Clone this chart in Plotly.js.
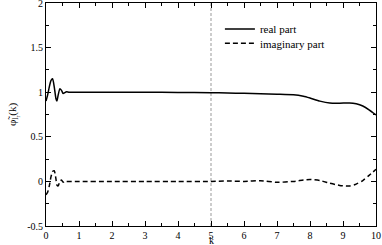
<!DOCTYPE html>
<html><head><meta charset="utf-8">
<script src="https://cdn.plot.ly/plotly-3.0.1.min.js"></script>
<style>html,body{margin:0;padding:0;background:#fff}#chart{width:382px;height:245px}</style>
</head><body><div id="chart"></div>
<script>
const kValues = [0,0.05,0.1,0.15,0.2,0.25,0.3,0.33,0.37,0.42,0.47,0.52,0.57,0.62,0.7,1,2,3,4,5,5.5,6,6.5,7,7.5,7.8,8,8.3,8.6,8.9,9.2,9.4,9.6,9.8,10];
const realPart = [0.9,0.97,1.06,1.13,1.15,1.06,0.93,0.9,0.97,1.04,1.02,0.985,0.995,1.005,1.0,1.0,1.0,1.0,0.998,0.995,0.99,0.988,0.982,0.978,0.972,0.955,0.935,0.9,0.878,0.876,0.88,0.87,0.845,0.8,0.745];
const imagPart = [-0.15,-0.12,-0.05,0.05,0.11,0.12,0.03,-0.04,-0.05,0.0,0.015,-0.01,0.003,0.0,0.0,0.0,0.0,0.0,0.0,0.0,0.005,0.0,0.008,-0.01,0.0,0.015,0.022,0.01,-0.02,-0.045,-0.052,-0.03,0.01,0.07,0.135];
const markerK = [5, 5];
const markerY = [-0.5, 2];
const seriesNames = ["real part", "imaginary part"];
const xTitle = "k";
const yTitle = "φ̃<sub>l<sub>r</sub></sub>(k)";
const xTickVals = [0,1,2,3,4,5,6,7,8,9,10];
const xTickText = ["0","1","2","3","4","5","6","7","8","9","10"];
const yTickVals = [-0.5,0,0.5,1,1.5,2];
const yTickText = ["-0.5","0","0.5","1","1.5","2"];

const fam = "Liberation Serif";
const font = {family: fam, size: 11, color: "#000"};
const tickFont = {family: fam, size: 10, color: "#000"};
const traces = [
  {x: markerK, y: markerY, mode: "lines", line: {color: "#999", width: 1, dash: "3px,2px"}, showlegend: false, hoverinfo: "skip"},
  {x: kValues, y: realPart, name: seriesNames[0], legend: "legend", mode: "lines", line: {color: "#000", width: 1.5, shape: "spline", smoothing: 0.6}},
  {x: kValues, y: imagPart, name: seriesNames[1], legend: "legend2", mode: "lines", line: {color: "#000", width: 1.5, dash: "5px,3px", shape: "spline", smoothing: 0.6}}
];
const axisCommon = {
  showgrid: false, zeroline: false, showline: true, linecolor: "#000", linewidth: 1,
  mirror: "allticks", ticks: "inside", ticklen: 5, tickcolor: "#000", tickwidth: 1,
  tickfont: tickFont, automargin: false, ticklabeloverflow: "allow"
};
const legendCommon = {xanchor: "left", yanchor: "middle", bgcolor: "rgba(0,0,0,0)", font: font, borderwidth: 0};
const layout = {
  width: 382, height: 245,
  margin: {l: 46, r: 6, t: 3, b: 19},
  paper_bgcolor: "#fff", plot_bgcolor: "#fff",
  font: font,
  showlegend: true,
  legend: Object.assign({x: 0.527, y: 0.883}, legendCommon),
  legend2: Object.assign({x: 0.527, y: 0.819}, legendCommon),
  annotations: [{text: xTitle, xref: "paper", yref: "paper", x: 0.5, y: 0, xanchor: "center", yanchor: "top",
    yshift: -8, borderpad: 0, showarrow: false, font: {family: fam, size: 10, color: "#000"}}],
  xaxis: Object.assign({}, axisCommon, {range: [0, 10], tickmode: "array", tickvals: xTickVals, ticktext: xTickText,
    minor: {ticks: "inside", ticklen: 3, tickcolor: "#000", dtick: 0.5, showgrid: false}}),
  yaxis: Object.assign({}, axisCommon, {range: [-0.5, 2], tickmode: "array", tickvals: yTickVals, ticktext: yTickText,
    minor: {ticks: "inside", ticklen: 3, tickcolor: "#000", dtick: 0.25, showgrid: false},
    title: {text: yTitle, font: font, standoff: 8}})
};
Plotly.newPlot("chart", traces, layout, {displayModeBar: false, staticPlot: true});
</script></body></html>
